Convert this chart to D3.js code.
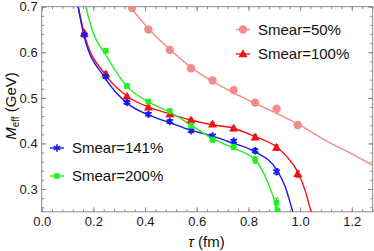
<!DOCTYPE html>
<html><head><meta charset="utf-8">
<script src="https://cdn.jsdelivr.net/npm/d3@7"></script>
<style>body{margin:0;background:#fff}svg{display:block}text{font-family:"Liberation Sans",Arial,sans-serif}</style>
</head><body><svg id="c" width="374" height="251"></svg>
<script>
// ---- data ----
const xTicks = [0.0, 0.2, 0.4, 0.6, 0.8, 1.0, 1.2];
const yTicks = [0.3, 0.4, 0.5, 0.6, 0.7];
const seriesNames = ["Smear=50%", "Smear=100%", "Smear=141%", "Smear=200%"];
// points: [tau, M, err]
const pts50 = [[0.350,0.697,0.004],[0.413,0.650,0.004],[0.496,0.605,0.004],[0.578,0.565,0.004],[0.661,0.538,0.004],[0.743,0.517,0.004],[0.826,0.4895,0.004],[0.909,0.476,0.005],[0.991,0.4406,0.006]];
const pts100 = [[0.165,0.642,0.004],[0.248,0.552,0.005],[0.330,0.503,0.004],[0.413,0.479,0.004],[0.496,0.464,0.004],[0.578,0.451,0.004],[0.661,0.442,0.004],[0.743,0.433,0.005],[0.826,0.4135,0.005],[0.909,0.391,0.006],[0.991,0.333,0.007]];
const pts141 = [[0.165,0.638,0.004],[0.248,0.5465,0.004],[0.330,0.490,0.004],[0.413,0.464,0.004],[0.496,0.448,0.004],[0.578,0.428,0.004],[0.661,0.4164,0.004],[0.743,0.405,0.004],[0.826,0.384,0.005],[0.909,0.338,0.006]];
const pts200 = [[0.248,0.6035,0.004],[0.330,0.526,0.004],[0.413,0.492,0.004],[0.496,0.471,0.004],[0.578,0.439,0.005],[0.661,0.408,0.005],[0.743,0.392,0.005],[0.826,0.364,0.007],[0.909,0.270,0.010],[0.912,0.252,0.004]];
// fit curves: [tau, M]
const fit50 = [[0.342,0.700],[0.413,0.652],[0.496,0.606],[0.578,0.567],[0.661,0.536],[0.743,0.511],[0.826,0.488],[0.909,0.466],[0.991,0.443],[1.100,0.406],[1.200,0.377],[1.284,0.351]];
const fit100 = [[0.1417,0.700],[0.164,0.642],[0.245,0.552],[0.329,0.504],[0.413,0.480],[0.494,0.465],[0.574,0.452],[0.658,0.441],[0.742,0.4334],[0.826,0.415],[0.910,0.3917],[0.9485,0.371],[0.9934,0.3347],[1.019,0.298],[1.0426,0.2504],[1.05,0.238]];
const fit141 = [[0.1405,0.700],[0.1638,0.636],[0.245,0.544],[0.329,0.489],[0.413,0.4625],[0.494,0.446],[0.574,0.4296],[0.658,0.4165],[0.729,0.4026],[0.826,0.3813],[0.910,0.3419],[0.942,0.3053],[0.9717,0.2504],[0.98,0.235]];
const fit200 = [[0.1703,0.700],[0.200,0.6417],[0.248,0.594],[0.331,0.5246],[0.413,0.491],[0.494,0.469],[0.577,0.4406],[0.658,0.4114],[0.742,0.3895],[0.826,0.3638],[0.871,0.320],[0.910,0.254],[0.915,0.24]];

const colors = ["#f48b8b", "#f01414", "#1818f0", "#22ee22"];

// ---- layout ----
const svg = d3.select("#c");
const L = 41.7, R = 372.7, T = 6.7, B = 211.8;
const x = d3.scaleLinear().domain([0, 1.281]).range([L, R]);
const y = d3.scaleLinear().domain([0.25, 0.7]).range([B, T]);
const frame = "#8a8a8a";

svg.append("defs").append("clipPath").attr("id","clip")
  .append("rect").attr("x",L).attr("y",T).attr("width",R-L).attr("height",B-T);

// ticks
const xMinor = d3.range(0, 1.281, 0.04);
const yMinor = d3.range(0.26, 0.701, 0.02);
function minorAxis(gen, vals, size){ return gen.tickValues(vals).tickSize(size).tickFormat(""); }
const g = svg.append("g");
const axes = [
  [d3.axisBottom(x), B, 0, xMinor, xTicks, true],
  [d3.axisTop(x), T, 0, xMinor, xTicks, false],
  [d3.axisLeft(y), 0, L, yMinor, yTicks, true],
  [d3.axisRight(y), 0, R, yMinor, yTicks, false]
];
axes.forEach(([mk, ty, tx, minor, major, lab]) => {
  const make = () => { const a = mk.copy ? mk.copy() : mk; return a; };
});
function addAxis(ctor, scale, tx, ty, minor, major, labels, fmt){
  const gm = g.append("g").attr("transform",`translate(${tx},${ty})`)
    .call(ctor(scale).tickValues(minor).tickSize(-2.5).tickFormat(""));
  gm.select(".domain").remove();
  gm.selectAll("line").attr("stroke",frame);
  const gM = g.append("g").attr("transform",`translate(${tx},${ty})`)
    .call(ctor(scale).tickValues(major).tickSize(-4.5).tickPadding(5).tickFormat(labels ? fmt : ""));
  gM.select(".domain").remove();
  gM.selectAll("line").attr("stroke",frame);
  gM.selectAll("text").attr("font-size",13).attr("fill","#1a1a1a")
    .attr("font-family","'Liberation Sans',Arial,sans-serif");
  return gM;
}
addAxis(d3.axisBottom, x, 0, B, xMinor, xTicks, true, d3.format(".1f"));
addAxis(d3.axisTop, x, 0, T, xMinor, xTicks, false);
const gl = addAxis(d3.axisLeft, y, L, 0, yMinor, yTicks, true, d3.format(".1f"));
addAxis(d3.axisRight, y, R, 0, yMinor, yTicks, false);
gl.selectAll("text").attr("x",-4);

svg.append("rect").attr("x",L).attr("y",T).attr("width",R-L).attr("height",B-T)
  .attr("fill","none").attr("stroke",frame).attr("stroke-width",1);

// curves
const plot = svg.append("g").attr("clip-path","url(#clip)");
const line = d3.line().x(d=>x(d[0])).y(d=>y(d[1])).curve(d3.curveMonotoneX);
[fit50, fit100, fit141, fit200].forEach((f,i)=>{
  plot.append("path").attr("d", line(f)).attr("fill","none")
    .attr("stroke", colors[i]).attr("stroke-width",1.4);
});

// markers
function marker(sel, i, cx, cy){
  const c = colors[i];
  if (i===0) sel.append("circle").attr("cx",cx).attr("cy",cy).attr("r",4.2).attr("fill",c);
  else if (i===1) sel.append("path").attr("d", d3.symbol(d3.symbolTriangle, 36)()).attr("transform",`translate(${cx},${cy+0.5})`).attr("fill",c);
  else if (i===2) sel.append("path").attr("d", d3.symbol(d3.symbolAsterisk, 40)()).attr("transform",`translate(${cx},${cy})`).attr("stroke",c).attr("stroke-width",1.6).attr("fill","none");
  else sel.append("rect").attr("x",cx-2.8).attr("y",cy-2.8).attr("width",5.6).attr("height",5.6).attr("fill",c);
}
[pts50, pts100, pts141, pts200].forEach((P,i)=>{
  const gp = plot.append("g");
  P.forEach(d=>{
    const cx = x(d[0]), y1 = y(d[1]-d[2]), y2 = y(d[1]+d[2]);
    gp.append("line").attr("x1",cx).attr("x2",cx).attr("y1",y1).attr("y2",y2).attr("stroke",colors[i]).attr("stroke-width",1.3);
    [y1,y2].forEach(yy=>gp.append("line").attr("x1",cx-2).attr("x2",cx+2).attr("y1",yy).attr("y2",yy).attr("stroke",colors[i]).attr("stroke-width",1.3));
    marker(gp, i, cx, y(d[1]));
  });
});

// legends
const legPos = [[243,29.5],[243,54],[57,148],[57,176]];
seriesNames.forEach((name,i)=>{
  const [lx,ly] = legPos[i];
  const gg = svg.append("g");
  gg.append("line").attr("x1",lx-7).attr("x2",lx+7).attr("y1",ly).attr("y2",ly).attr("stroke",colors[i]).attr("stroke-width",1.4);
  marker(gg, i, lx, ly);
  gg.append("text").attr("x",lx+15).attr("y",ly+5.3).attr("font-size",15).attr("fill","#111").text(name);
});

// axis titles
svg.append("text").attr("x",206.5).attr("y",247).attr("text-anchor","middle").attr("font-size",15).attr("fill","#111")
  .call(t=>{ t.append("tspan").attr("font-style","italic").text("τ"); t.append("tspan").text(" (fm)"); });
svg.append("text").attr("transform","translate(16,106) rotate(-90)").attr("text-anchor","middle").attr("font-size",15).attr("fill","#111")
  .call(t=>{ t.append("tspan").attr("font-style","italic").text("M");
             t.append("tspan").attr("font-size",10).attr("dy",3).text("eff");
             t.append("tspan").attr("dy",-3).text(" (GeV)"); });
</script></body></html>
